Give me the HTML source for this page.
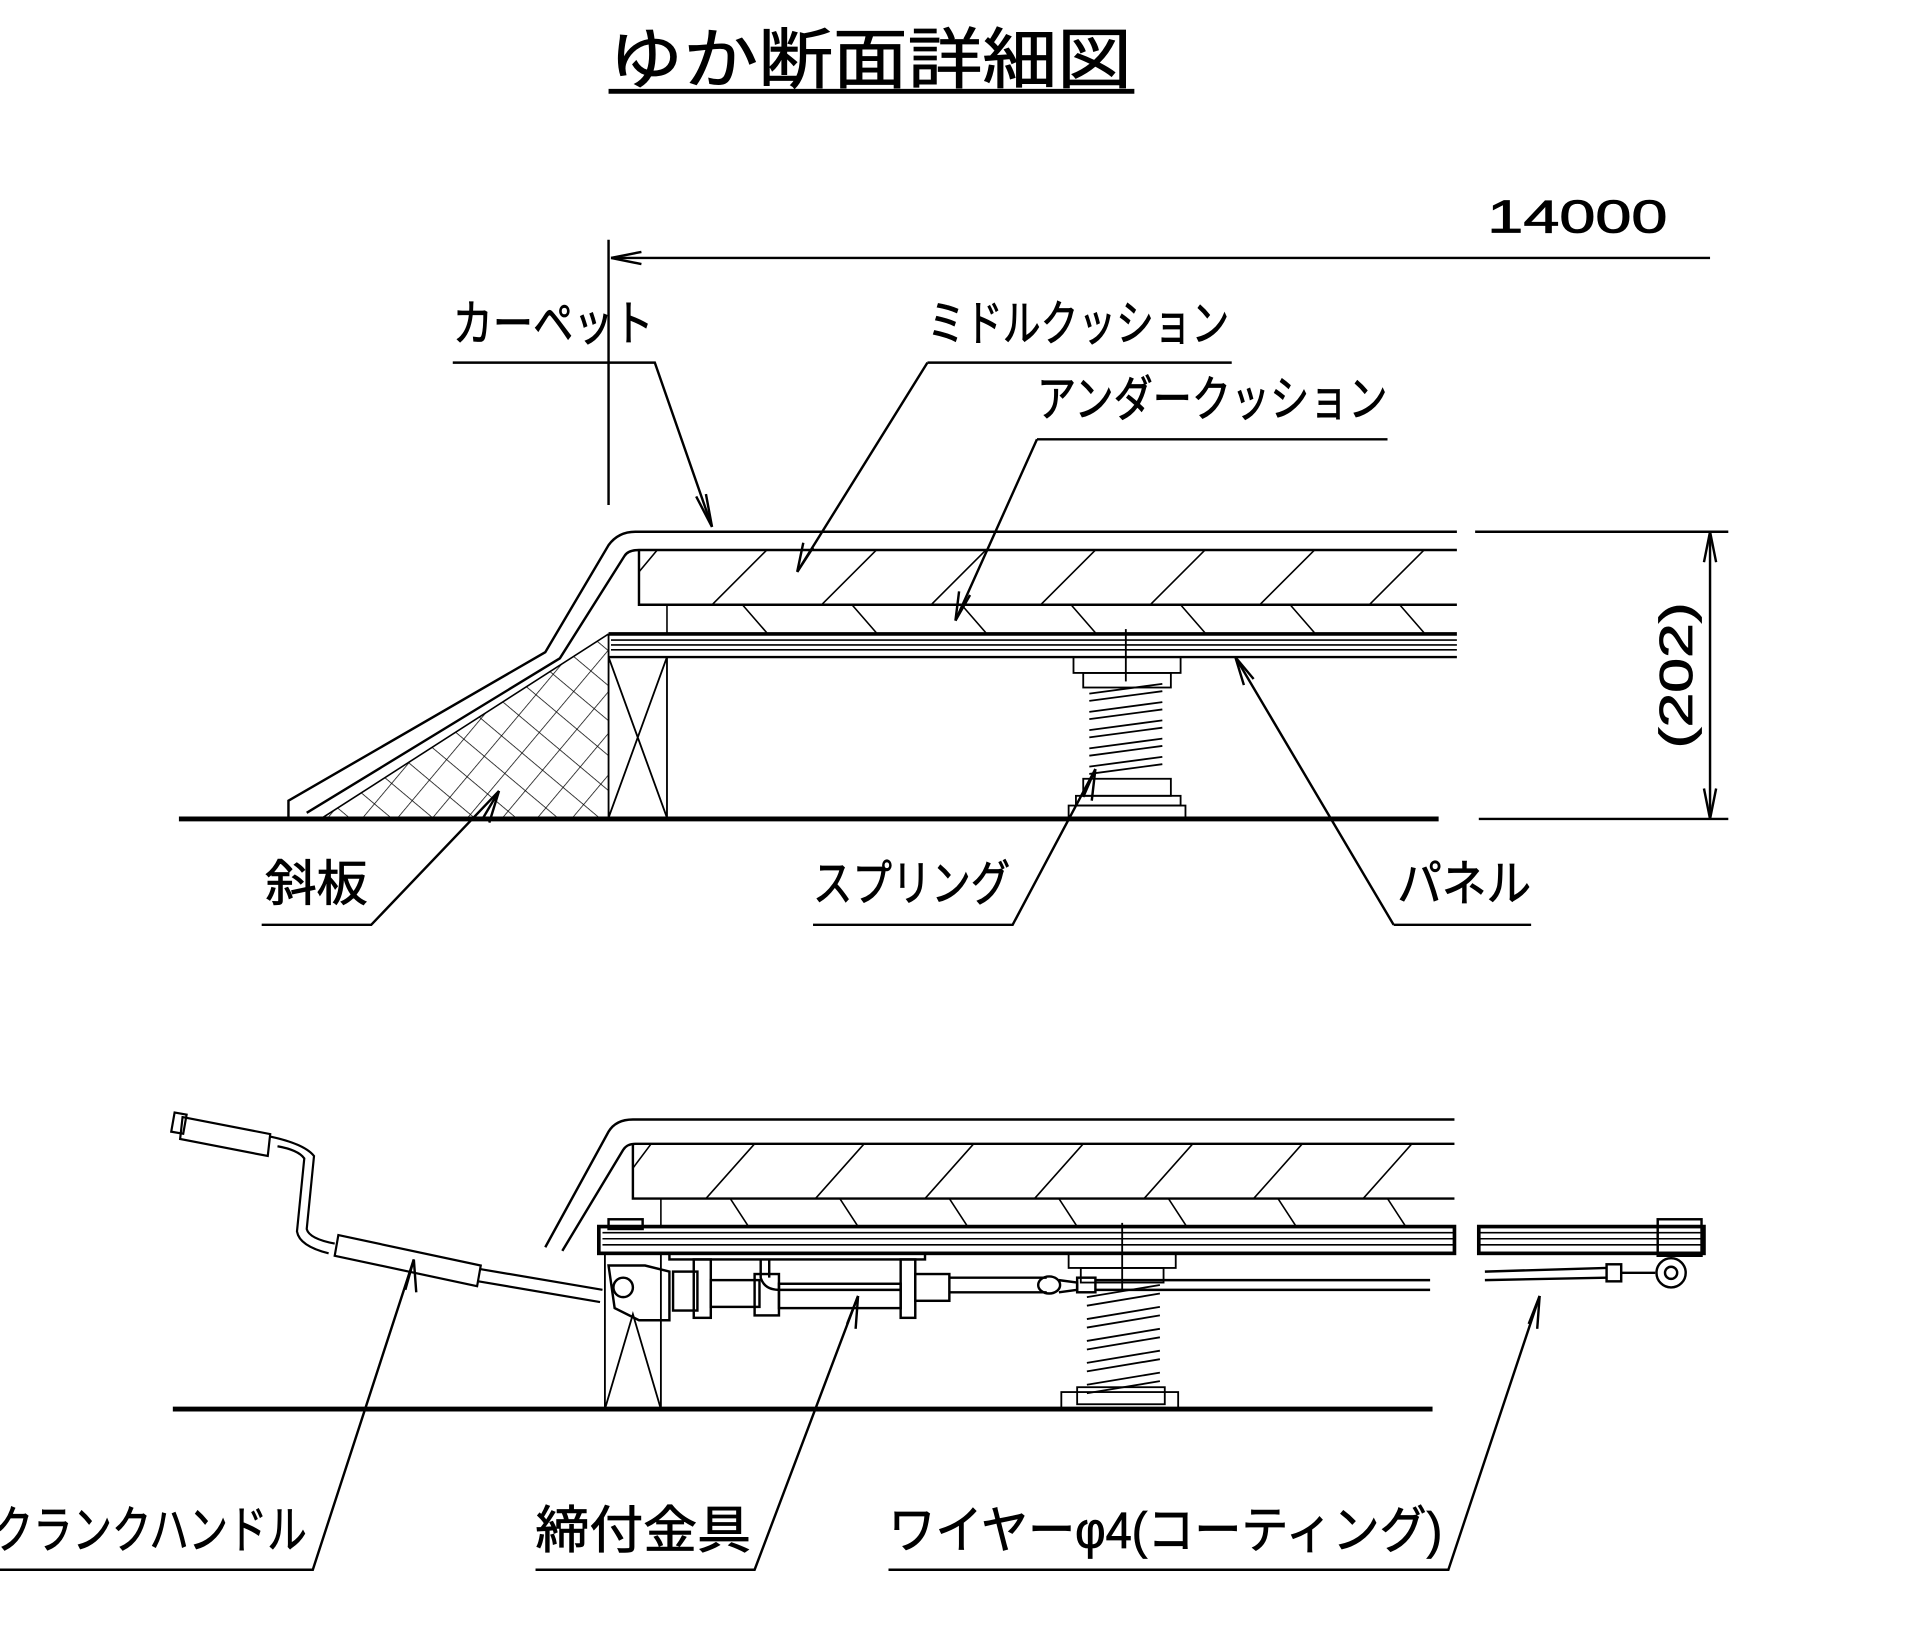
<!DOCTYPE html>
<html><head><meta charset="utf-8"><style>
html,body{margin:0;padding:0;background:#fff;}
svg{display:block;}
text{font-family:"Liberation Sans","Noto Sans CJK JP",sans-serif;fill:#000;}
</style></head><body>
<svg width="1906" height="1633" viewBox="0 0 1566 1342" preserveAspectRatio="none" xmlns="http://www.w3.org/2000/svg">
<defs>
<pattern id="cross" width="22" height="22" patternUnits="userSpaceOnUse" patternTransform="rotate(40)">
<path d="M0,0 L22,0 M0,0 L0,22" stroke="#000" stroke-width="1.2"/>
</pattern>
</defs>
<g fill="none" stroke="#000" stroke-width="2">
<g stroke="#000" stroke-width="0.7">
<text x="500" y="68" font-size="54" textLength="430" lengthAdjust="spacingAndGlyphs">ゆか断面詳細図</text>
<text x="1222" y="191" font-size="38" textLength="148" lengthAdjust="spacingAndGlyphs">14000</text>
<text x="372" y="280" font-size="40" textLength="165" lengthAdjust="spacingAndGlyphs">カーペット</text>
<text x="762" y="280" font-size="40" textLength="248" lengthAdjust="spacingAndGlyphs">ミドルクッション</text>
<text x="852" y="342" font-size="40" textLength="288" lengthAdjust="spacingAndGlyphs">アンダークッション</text>
<text transform="translate(1390,555) rotate(-90)" x="0" y="0" font-size="38" text-anchor="middle" textLength="120" lengthAdjust="spacingAndGlyphs">(202)</text>
<text x="218" y="740" font-size="40" textLength="84" lengthAdjust="spacingAndGlyphs">斜板</text>
<text x="668" y="740" font-size="40" textLength="162" lengthAdjust="spacingAndGlyphs">スプリング</text>
<text x="1148" y="740" font-size="40" textLength="110" lengthAdjust="spacingAndGlyphs">パネル</text>
<text x="-5" y="1272" font-size="42" textLength="257" lengthAdjust="spacingAndGlyphs">クランクハンドル</text>
<text x="440" y="1272" font-size="42" textLength="177" lengthAdjust="spacingAndGlyphs">締付金具</text>
<text x="730" y="1272" font-size="42" textLength="455" lengthAdjust="spacingAndGlyphs">ワイヤーφ4(コーティング)</text>
</g>
<line x1="500" y1="75" x2="932" y2="75" stroke-width="4"/>
<line x1="502" y1="212" x2="1405" y2="212"/>
<path d="M502,212 L527,207 M502,212 L527,217"/>
<line x1="500" y1="197" x2="500" y2="415"/>
<path d="M372,298 L538,298 L585,433"/><path d="M585,433 L572,408 M585,433 L580,406" />
<path d="M762,298 L1012,298 M762,298 L655,470"/><path d="M655,470 L660,446 M655,470 L668,450"/>
<path d="M852,361 L1140,361 M852,361 L785,510"/><path d="M785,510 L788,486 M785,510 L797,489"/>
<path d="M237,672 L237,658 L448,536 L500,448 Q508,437 522,437 L1197,437"/>
<path d="M252,668 L460,541 L513,457 Q516,452 525,452 L1197,452"/>
<path d="M525,452 L525,497 L1197,497"/>
<g stroke-width="1.3">
<path d="M585,497 L630,452 M675,497 L720,452 M765,497 L810,452 M855,497 L900,452 M945,497 L990,452 M1035,497 L1080,452 M1125,497 L1170,452 M525,470 L540,452"/>
<path d="M610,497 L630,520 M700,497 L720,520 M790,497 L810,520 M880,497 L900,520 M970,497 L990,520 M1060,497 L1080,520 M1150,497 L1170,520"/>
</g>
<line x1="548" y1="497" x2="548" y2="520" stroke-width="1.3"/>
<line x1="500" y1="521" x2="1197" y2="521" stroke-width="3"/>
<g stroke-width="1.3"><line x1="502" y1="526" x2="1197" y2="526"/><line x1="502" y1="530" x2="1197" y2="530"/><line x1="502" y1="534" x2="1197" y2="534"/></g>
<line x1="500" y1="540" x2="1197" y2="540"/>
<path d="M500,521 L500,672 M548,540 L548,672 M500,540 L548,672 M548,540 L500,672" stroke-width="1.5"/>
<path d="M265,672 L500,521 L500,672 Z" fill="url(#cross)" stroke="none"/>
<path d="M265,672 L500,521" stroke-width="1.3"/>
<line x1="147" y1="673" x2="1182" y2="673" stroke-width="4"/>
<line x1="1212" y1="437" x2="1420" y2="437"/>
<line x1="1215" y1="673" x2="1420" y2="673"/>
<line x1="1405" y1="437" x2="1405" y2="673"/>
<path d="M1405,437 L1400,462 M1405,437 L1410,462 M1405,673 L1400,648 M1405,673 L1410,648"/>
<g stroke-width="1.5">
<line x1="925" y1="517" x2="925" y2="560"/>
<rect x="882" y="540" width="88" height="13"/>
<rect x="890" y="553" width="72" height="12"/>
<path d="M895,570 L955,562 M895,585 L955,577 M895,600 L955,592 M895,615 L955,607 M895,630 L955,622"/>
<path d="M895,576 L955,568 M895,591 L955,583 M895,606 L955,598 M895,621 L955,613 M895,636 L955,628"/>
<rect x="890" y="640" width="72" height="14"/>
<rect x="884" y="654" width="86" height="8"/>
<rect x="878" y="662" width="96" height="10"/>
</g>
<path d="M215,760 L305,760 L410,650"/><path d="M410,650 L397,672 M410,650 L402,676"/>
<path d="M668,760 L832,760 L900,632"/><path d="M900,632 L890,655 M900,632 L897,658"/>
<path d="M1145,760 L1258,760 M1145,760 L1015,540"/><path d="M1015,540 L1022,563 M1015,540 L1030,558"/>

<path d="M448,1025 L500,930 Q506,920 520,920 L1195,920"/>
<path d="M462,1028 L512,945 Q515,940 522,940 L1195,940"/>
<path d="M520,940 L520,985 L1195,985"/>
<g stroke-width="1.3">
<path d="M580,985 L620,940 M670,985 L710,940 M760,985 L800,940 M850,985 L890,940 M940,985 L980,940 M1030,985 L1070,940 M1120,985 L1160,940 M520,960 L535,940"/>
<path d="M600,985 L615,1008 M690,985 L705,1008 M780,985 L795,1008 M870,985 L885,1008 M960,985 L975,1008 M1050,985 L1065,1008 M1140,985 L1155,1008"/>
<line x1="543" y1="985" x2="543" y2="1008"/>
</g>
<rect x="492" y="1008" width="703" height="22" stroke-width="3"/>
<g stroke-width="1.3"><line x1="495" y1="1013" x2="1195" y2="1013"/><line x1="495" y1="1018" x2="1195" y2="1018"/><line x1="495" y1="1023" x2="1195" y2="1023"/></g>
<rect x="1215" y="1008" width="185" height="22" stroke-width="3"/>
<g stroke-width="1.3"><line x1="1215" y1="1013" x2="1398" y2="1013"/><line x1="1215" y1="1018" x2="1398" y2="1018"/><line x1="1215" y1="1023" x2="1398" y2="1023"/></g>
<rect x="1362" y="1002" width="36" height="30" stroke-width="2"/>
<rect x="500" y="1002" width="28" height="8"/>
<path d="M497,1030 L497,1158 M543,1030 L543,1158 M497,1158 L520,1080 L543,1158" stroke-width="1.5"/>
<line x1="142" y1="1158" x2="1177" y2="1158" stroke-width="4"/>
<g stroke-width="1.5">
<line x1="922" y1="1005" x2="922" y2="1060"/>
<rect x="878" y="1030" width="88" height="12"/>
<rect x="888" y="1042" width="68" height="12"/>
<path d="M893,1066 L953,1056 M893,1084 L953,1074 M893,1102 L953,1092 M893,1120 L953,1110 M893,1138 L953,1128"/>
<path d="M893,1073 L953,1063 M893,1091 L953,1081 M893,1109 L953,1099 M893,1127 L953,1117 M893,1145 L953,1135"/>
<rect x="885" y="1140" width="72" height="14"/>
<rect x="872" y="1144" width="96" height="14"/>
</g>
<g stroke-width="2">
<rect x="550" y="1030" width="210" height="5"/>
<path d="M500,1040 L530,1040 L550,1045 L550,1085 L525,1085 L505,1075 Z"/>
<circle cx="512" cy="1058" r="8"/>
<rect x="553" y="1045" width="20" height="32"/>
<rect x="570" y="1035" width="14" height="48"/>
<rect x="584" y="1052" width="40" height="22"/>
<rect x="620" y="1047" width="20" height="34"/>
<path d="M625,1035 L625,1050 Q628,1060 640,1060 L740,1060 M632,1035 L632,1050"/>
<rect x="640" y="1055" width="100" height="20"/>
<rect x="740" y="1035" width="12" height="48"/>
<rect x="752" y="1047" width="28" height="22"/>
<path d="M780,1050 L860,1050 M780,1062 L860,1062"/>
<ellipse cx="862" cy="1056" rx="9" ry="7"/>
<path d="M870,1052 L885,1054 L885,1060 L870,1062"/>
<rect x="885" y="1050" width="15" height="12"/>
<path d="M900,1052 L1175,1052 M900,1060 L1175,1060"/>
<path d="M1220,1045 L1320,1042 M1220,1052 L1320,1050"/>
<rect x="1320" y="1039" width="12" height="14"/>
<line x1="1332" y1="1046" x2="1360" y2="1046"/>
<circle cx="1373" cy="1046" r="12"/>
<circle cx="1373" cy="1046" r="5"/>
</g>
<g stroke-width="1.8">
<rect x="142" y="915" width="10" height="16" transform="rotate(10 147 923)"/>
<path d="M150,918 L222,932 L220,950 L148,936 Z"/>
<path d="M222,934 Q250,940 258,950 L252,1010 Q254,1018 275,1022 M228,942 Q245,945 250,952 L244,1012 Q246,1024 270,1030"/>
<path d="M278,1015 L395,1040 L392,1057 L275,1032 Z"/>
<path d="M395,1043 L495,1060 M393,1053 L493,1070"/>
</g>
<path d="M0,1290 L257,1290 L340,1035"/><path d="M340,1035 L333,1060 M340,1035 L342,1062"/>
<path d="M440,1290 L620,1290 L705,1065"/><path d="M705,1065 L696,1088 M705,1065 L703,1092"/>
<path d="M730,1290 L1190,1290 L1265,1065"/><path d="M1265,1065 L1256,1088 M1265,1065 L1263,1092"/>
</g>
</svg>
</body></html>
